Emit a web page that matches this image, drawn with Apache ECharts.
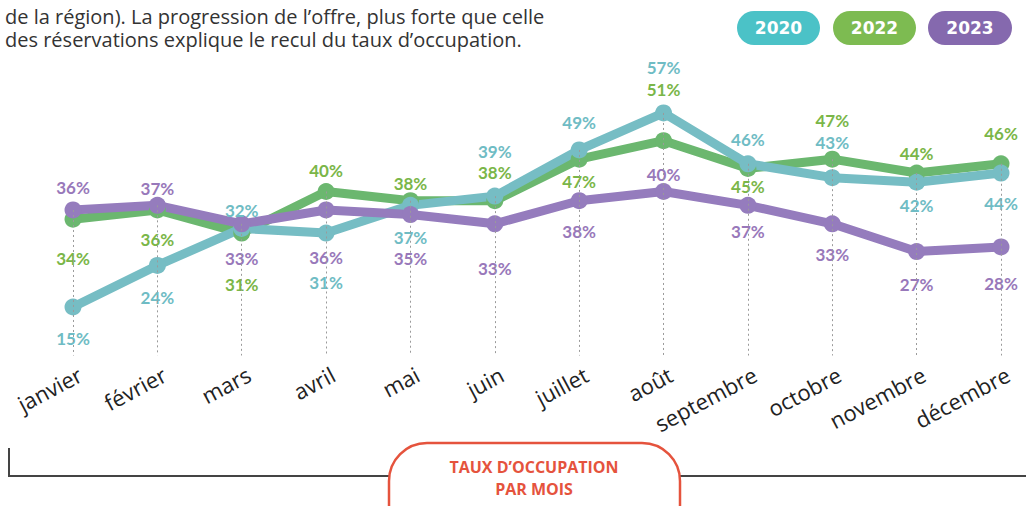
<!DOCTYPE html>
<html>
<head>
<meta charset="utf-8">
<script src="https://cdn.jsdelivr.net/npm/echarts@6/dist/echarts.min.js"></script>
<style>
  html, body { margin: 0; padding: 0; background: #fff; }
  #chart { width: 1026px; height: 506px; }
</style>
</head>
<body>
<div id="chart"></div>
<script>
const months = ['janvier', 'février', 'mars', 'avril', 'mai', 'juin', 'juillet', 'août', 'septembre', 'octobre', 'novembre', 'décembre'];
const taux2020 = [15, 24, 32, 31, 37, 39, 49, 57, 46, 43, 42, 44];
const taux2022 = [34, 36, 31, 40, 38, 38, 47, 51, 45, 47, 44, 46];
const taux2023 = [36, 37, 33, 36, 35, 33, 38, 40, 37, 33, 27, 28];

// label placement (px from point centre, + = below)
const dy2020 = [32, 32, -18, 49, 32, -45, -27, -45, -24, -35, 23, 30];
const dy2022 = [39, 30, 51, -21, -17, -28, 22, -51, 18, -39, -20, -30];
const dy2023 = [-22, -17, 35, 48, 44, 45, 31, -17, 26, 31, 33, 37];

const Y_MIN = 4.5;
const LABEL_TILT = 28;

function lineSeries(name, values, offsets, lineColor, labelColor) {
  return {
    name: name,
    type: 'line',
    data: values.map(function (v, i) {
      return { value: v, label: { offset: [0, offsets[i]] } };
    }),
    symbol: 'circle',
    symbolSize: 17,
    lineStyle: { color: lineColor, width: 9 },
    itemStyle: { color: lineColor },
    label: {
      show: true,
      position: 'inside',
      formatter: '{c}%',
      color: labelColor,
      fontFamily: 'Lato',
      fontWeight: 'bold',
      fontSize: 17
    },
    z: 3
  };
}

// dotted guides: from the highest point of each month down to the axis
const guides = months.map(function (m, i) {
  const top = Math.max(taux2020[i], taux2022[i], taux2023[i]);
  return [{ coord: [i, top] }, { coord: [i, Y_MIN] }];
});

function pill(left, width, color, text) {
  return {
    type: 'group', left: left, top: 11,
    children: [
      { type: 'rect', shape: { x: 0, y: 0, width: width, height: 34, r: 17 }, style: { fill: color } },
      { type: 'text', x: width / 2, y: 17, style: { text: text, font: 'bold 17px DejaVu Sans', fill: '#fff', align: 'center', verticalAlign: 'middle' } }
    ]
  };
}

const chart = echarts.init(document.getElementById('chart'), null, { renderer: 'svg' });
chart.setOption({
  animation: false,
  grid: { left: 73, right: 25, top: 76, bottom: 150.5 },
  xAxis: {
    type: 'category',
    data: months,
    boundaryGap: false,
    axisLine: { show: false },
    axisTick: { show: false },
    splitLine: { show: false },
    axisLabel: { show: false }
  },
  yAxis: {
    type: 'value',
    min: Y_MIN,
    max: 65,
    show: false
  },
  series: [
    {
      type: 'line',
      data: [],
      silent: true,
      markLine: {
        silent: true,
        symbol: ['none', 'none'],
        label: { show: false },
        lineStyle: { color: '#9a9a9a', type: [2, 3], width: 1 },
        data: guides
      },
      z: 1
    },
    lineSeries('2022', taux2022, dy2022, '#6bb76f', '#7ab648'),
    lineSeries('2020', taux2020, dy2020, '#76bdc4', '#6fbcc4'),
    lineSeries('2023', taux2023, dy2023, '#957cbd', '#9878ba')
  ]
});

// tilted month names, anchored on the category axis positions
const monthLabels = months.map(function (m, i) {
  const p = chart.convertToPixel({ xAxisIndex: 0, yAxisIndex: 0 }, [i, Y_MIN]);
  return {
    type: 'text',
    x: p[0] + 7,
    y: p[1] + 17,
    rotation: LABEL_TILT * Math.PI / 180,
    style: {
      text: m,
      font: '22px Open Sans',
      fill: '#222',
      align: 'right',
      verticalAlign: 'middle'
    }
  };
});

chart.setOption({
  graphic: monthLabels.concat([
    {
      type: 'text', left: 5, top: 5,
      style: {
        text: 'de la région). La progression de l’offre, plus forte que celle\ndes réservations explique le recul du taux d’occupation.',
        font: '20px Open Sans', lineHeight: 23, fill: '#333'
      }
    },
    pill(737, 83, '#4bc2c7', '2020'),
    pill(833, 83, '#7dbb51', '2022'),
    pill(928, 84, '#8569ae', '2023'),
    {
      type: 'polyline',
      shape: { points: [[9, 448], [9, 476], [1026, 476]] },
      style: { stroke: '#444', lineWidth: 2, fill: null },
      z: 10
    },
    {
      type: 'rect',
      shape: { x: 389, y: 443, width: 291, height: 100, r: 38 },
      style: { fill: '#fff', stroke: '#e5533d', lineWidth: 2.5 },
      z: 11
    },
    {
      type: 'text', x: 534, y: 467,
      style: { text: 'TAUX D’OCCUPATION', font: 'bold 16px Open Sans', fill: '#e5533d', align: 'center', verticalAlign: 'middle' },
      z: 12
    },
    {
      type: 'text', x: 534, y: 489,
      style: { text: 'PAR MOIS', font: 'bold 16px Open Sans', fill: '#e5533d', align: 'center', verticalAlign: 'middle' },
      z: 12
    }
  ])
});
</script>
</body>
</html>
